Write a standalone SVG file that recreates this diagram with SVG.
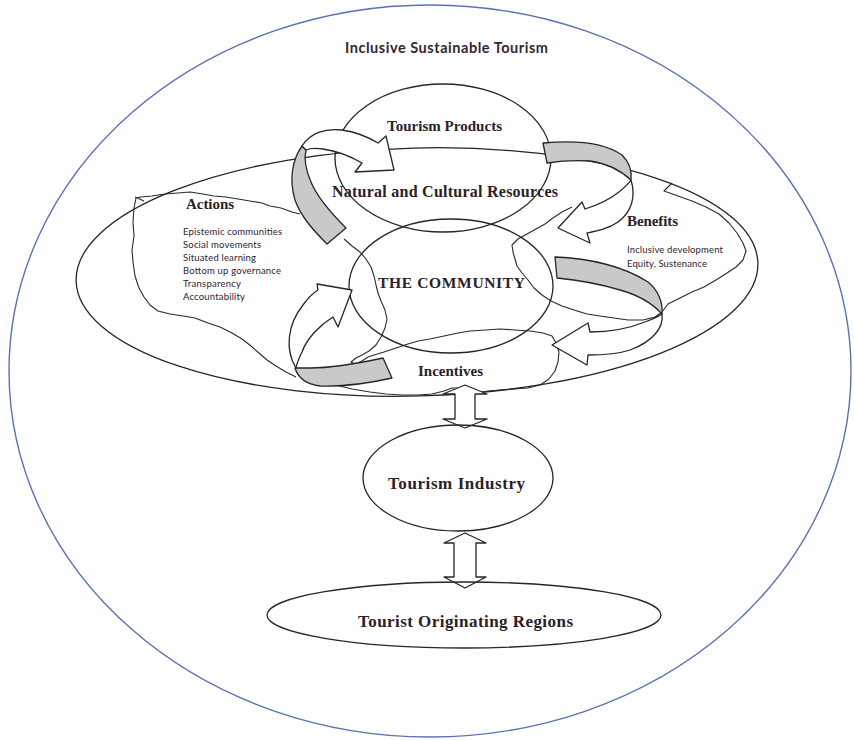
<svg xmlns="http://www.w3.org/2000/svg" width="854" height="740" viewBox="0 0 854 740">
<style>
.outer{fill:none;stroke:#5a72b5;stroke-width:1.4}
.node{fill:none;stroke:#262626;stroke-width:1.3}
.nodew{fill:#fff;stroke:#262626;stroke-width:1.3}
.jag{fill:none;stroke:#2a2a2a;stroke-width:1.1;stroke-linejoin:round}
.band{fill:#c9c9c9;stroke:#262626;stroke-width:1.3;stroke-linejoin:round}
.rib{fill:#fff;stroke:#262626;stroke-width:1.3;stroke-linejoin:round}
.serif{font-family:"Liberation Serif","Times New Roman",serif;font-weight:bold;fill:#2b2127}
.sans{font-family:Lato,"Liberation Sans",sans-serif;fill:#2e2430}
.title{font-family:Lato,"Liberation Sans",sans-serif;font-weight:bold;fill:#35262f}
</style>
<rect width="854" height="740" fill="#fff"/>

<!-- outer boundary: inclusive sustainable tourism -->
<g id="inclusive-sustainable-tourism">
  <ellipse class="outer" cx="430" cy="371" rx="421" ry="366"/>
  <text class="title" x="345" y="53" font-size="14.5" textLength="203">Inclusive Sustainable Tourism</text>
</g>

<!-- natural and cultural resources domain -->
<g id="natural-cultural-resources">
  <ellipse class="node" cx="417" cy="272" rx="341" ry="124" transform="rotate(-1.5 417 272)"/>
</g>

<!-- actions area -->
<g id="actions">
  <path class="jag" d="M 300,214 L 292,212 L 281,208 L 270,206 L 262,203 L 250,201 L 238,199 L 226,197 L 214,196 L 203,194 L 190,192 L 178,193 L 165,194 L 152,196 L 141,197 L 136,198 L 134,208 L 133,222 L 134,236 L 132,250 L 133,262 L 135,276 L 139,288 L 144,297 L 150,305 L 158,311 L 170,314 L 183,316 L 195,318 L 208,323 L 220,327 L 232,333 L 242,339 L 251,346 L 259,353 L 267,360 L 276,366 L 286,372 L 296,377 M 135,197 L 144,201"/>
  <text class="serif" x="186" y="209" font-size="15" textLength="48">Actions</text>
  <g class="sans" font-size="9.5">
    <text x="183" y="235" textLength="99">Epistemic communities</text>
    <text x="183" y="248" textLength="78">Social movements</text>
    <text x="183" y="261" textLength="73">Situated learning</text>
    <text x="183" y="274" textLength="98">Bottom up governance</text>
    <text x="183" y="287" textLength="58">Transparency</text>
    <text x="183" y="300" textLength="62">Accountability</text>
  </g>
</g>

<!-- benefits area -->
<g id="benefits">
  <path class="jag" d="M 572,207 L 562,212 L 553,218 L 545,224 L 536,229 L 527,234 L 518,239 L 512,245 L 513,252 L 515,259 L 517,266 L 522,273 L 528,280 L 534,288 L 542,295 L 551,301 L 562,306 L 574,310 L 587,314 L 600,316 L 614,318 L 628,320 L 643,320 L 655,317 L 662,312 L 668,304 L 680,298 L 692,292 L 704,287 L 716,280 L 727,273 L 736,267 L 743,260 L 746,251 L 743,243 L 737,233 L 729,223 L 719,214 L 706,207 L 692,201 L 678,196 L 664,191 L 672,183"/>
  <text class="serif" x="627" y="226" font-size="15" textLength="51">Benefits</text>
  <g class="sans" font-size="9.5">
    <text x="627" y="253" textLength="96">Inclusive development</text>
    <text x="627" y="267" textLength="80">Equity, Sustenance</text>
  </g>
</g>

<!-- incentives area -->
<g id="incentives">
  <path class="jag" d="M 344,239 L 352,246 L 360,252 L 366,259 L 371,267 L 374,276 L 376,285 L 378,293 L 381,301 L 385,310 L 387,319 L 385,328 L 381,337 L 376,345 L 369,351 L 362,355 L 356,358 L 351,362 L 355,364 L 362,361 L 368,357 L 374,355 L 384,352 L 396,348 L 408,344 L 418,341 L 430,339 L 444,336 L 458,333 L 470,331 L 486,330 L 500,329 L 515,330 L 530,331 L 543,333 L 552,336 L 556,343 L 559,352 L 558,362 L 555,371 L 549,379 L 540,385 L 528,388 L 514,389 L 500,390 L 488,391 L 478,393 L 470,389 L 460,388 L 452,388 L 444,391 L 432,394 L 418,395 L 402,395 L 386,394 L 370,392 L 352,389 L 336,385 L 318,380 L 303,374"/>
  <text class="serif" x="418" y="376" font-size="15" textLength="65">Incentives</text>
</g>

<!-- tourism products -->
<g id="tourism-products">
  <ellipse class="node" cx="443" cy="158" rx="108" ry="74"/>
  <text class="serif" x="387" y="131" font-size="15" textLength="115">Tourism Products</text>
</g>

<!-- the community -->
<g id="the-community">
  <ellipse class="node" cx="451" cy="286" rx="102" ry="67"/>
</g>

<!-- flow arrows between the areas -->
<g id="connectors">
  <!-- actions to tourism products -->
  <path class="band" d="M 302,146 C 292,160 289,180 295,200 C 301,217 314,231 327,244 L 346,228 C 331,213 317,197 311,182 C 305,168 304,158 306,150 Z"/>
  <path class="rib" d="M 302,146 C 310,133 325,128 342,130 C 356,132 368,137 378,143 L 386,136 L 394,170 L 355,172 L 362,163 C 350,156 337,151 323,149 C 315,148 310,148 306,150 Z"/>
  <!-- tourism products to benefits -->
  <path class="band" d="M 543,143 C 575,140 605,143 622,155 C 630,163 632,172 631,180 C 620,170 605,163 590,161 C 575,160 560,161 547,163 Z"/>
  <path class="rib" d="M 631,180 C 636,196 632,212 618,222 C 608,229 597,231 587,233 L 590,243 L 558,228 L 582,202 L 585,209 C 598,205 610,199 619,192 C 625,187 629,183 631,180 Z"/>
  <!-- community to incentives -->
  <path class="band" d="M 555,257 C 590,258 625,267 648,282 C 658,290 663,302 662,314 C 652,303 638,295 620,290 C 600,284 578,280 557,278 Z"/>
  <path class="rib" d="M 662,314 C 664,328 652,342 630,350 C 618,354 603,355 588,355 L 587,365 L 552,345 L 588,323 L 590,332 C 610,332 630,328 645,322 C 653,319 659,316 662,314 Z"/>
  <!-- incentives back to community -->
  <path class="band" d="M 383,358 C 360,363 330,368 310,368 C 303,368 298,368 295,368 C 298,378 305,384 320,386 C 345,387 370,383 392,378 Z"/>
  <path class="rib" d="M 296,368 C 285,350 287,325 303,305 C 308,298 313,293 318,290 L 317,284 L 352,290 L 338,327 L 333,317 C 320,325 307,338 302,352 C 299,358 297,363 296,368 Z"/>
  <!-- two-way links down the chain -->
  <path class="rib" d="M 465,385 L 487,394 L 475,394 L 475,419 L 487,419 L 465,428 L 443,419 L 455,419 L 455,394 L 443,394 Z"/>
  <path class="rib" d="M 465,533 L 486,543 L 476,543 L 476,577 L 486,577 L 465,588 L 444,577 L 454,577 L 454,543 L 444,543 Z"/>
</g>

<!-- labels drawn above the arrows -->
<text class="serif" x="332" y="197" font-size="16" textLength="226">Natural and Cultural Resources</text>
<text class="serif" x="378" y="288" font-size="15.5" textLength="147">THE COMMUNITY</text>

<!-- tourism industry -->
<g id="tourism-industry">
  <ellipse class="node" cx="458" cy="478" rx="95" ry="53"/>
  <text class="serif" x="388" y="489" font-size="17" textLength="137">Tourism Industry</text>
</g>

<!-- tourist originating regions -->
<g id="tourist-originating-regions">
  <ellipse class="node" cx="464" cy="615" rx="197" ry="33"/>
  <text class="serif" x="358" y="627" font-size="17" textLength="215">Tourist Originating Regions</text>
</g>
</svg>
